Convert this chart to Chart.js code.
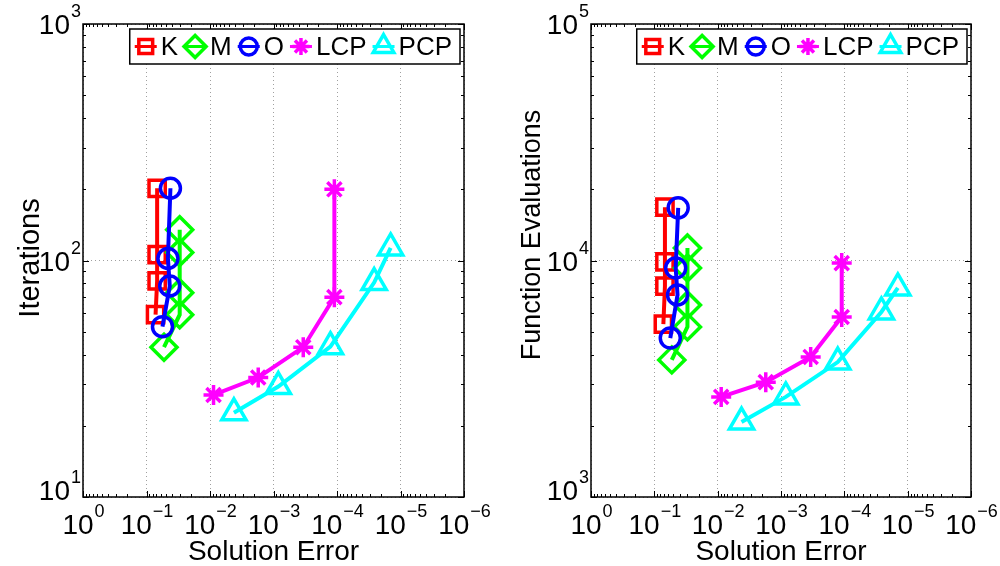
<!DOCTYPE html>
<html>
<head>
<meta charset="utf-8">
<script src="https://cdn.jsdelivr.net/npm/chart.js@4.4.1/dist/chart.umd.min.js"></script>
<style>
body { margin: 0; background: #fff; }
#wrap { position: relative; width: 1000px; height: 566px; }
canvas { position: absolute; top: 0; }
</style>
</head>
<body>
<div id="wrap">
  <canvas id="leftChart" width="500" height="566" style="left:0;width:500px;height:566px"></canvas>
  <canvas id="rightChart" width="500" height="566" style="left:500px;width:500px;height:566px"></canvas>
</div>
<script>
// Series names
var names = ['K', 'M', 'O', 'LCP', 'PCP'];

// Solution error (x, shared by both plots)
var kErr = [0.072, 0.068, 0.068, 0.068];
var mErr = [0.053, 0.030, 0.030, 0.030, 0.030];
var oErr = [0.056, 0.043, 0.046, 0.042];
var lcpErr = [0.0088, 0.00174, 0.00034, 0.00011, 0.00011];
var pcpErr = [0.0042, 0.00084, 0.000127, 0.000026, 0.0000143];

// Iterations (left plot)
var kIter = [59, 82, 106, 202];
var mIter = [43, 59, 73, 108, 135];
var oIter = [52.5, 78, 102, 202];
var lcpIter = [27, 32, 43, 70, 200];
var pcpIter = [22.7, 29.3, 43.2, 80.7, 113];

// Function evaluations (right plot)
var kEval = [5380, 7800, 9860, 16800];
var mEval = [3800, 5240, 6490, 9290, 11300];
var oEval = [4700, 7150, 9290, 16700];
var lcpEval = [2650, 3060, 3910, 5770, 9750];
var pcpEval = [2075, 2650, 3720, 6060, 7660];

// Tick labels (exponents of 10)
var xTickExps = [0, -1, -2, -3, -4, -5, -6];
var iterTickExps = [1, 2, 3];
var evalTickExps = [3, 4, 5];

var FONT = '"Liberation Sans", Arial, Helvetica, sans-serif';

var styles = [
    { color: '#ff0000', point: 'rect', radius: 11.5 },
    { color: '#00ff00', point: 'rectRot', radius: 13 },
    { color: '#0000ff', point: 'circle', radius: 10 },
    { color: '#ff00ff', point: 'star', radius: 10 },
    { color: '#00ffff', point: 'triangle', radius: 14 }
];

function toPoints(xs, ys) {
    return xs.map(function (x, i) { return { x: x, y: ys[i] }; });
}

function makeDatasets(ySets) {
    var xSets = [kErr, mErr, oErr, lcpErr, pcpErr];
    return names.map(function (n, i) {
        var s = styles[i];
        return {
            label: n,
            data: toPoints(xSets[i], ySets[i]),
            showLine: true,
            borderColor: s.color,
            borderWidth: 4,
            pointStyle: s.point,
            pointRadius: s.radius,
            pointBorderWidth: 3.5,
            pointBorderColor: s.color,
            pointBackgroundColor: 'rgba(0,0,0,0)',
            order: 5 - i
        };
    });
}

// log ticks 1..9 x 10^n between two exponents
function logTicks(lo, hi) {
    var t = [];
    for (var e = lo; e < hi; e++) {
        for (var m = 1; m < 10; m++) t.push({ value: m * Math.pow(10, e) });
    }
    t.push({ value: Math.pow(10, hi) });
    return t;
}

function isDecade(v) {
    var l = Math.log10(v);
    return Math.abs(l - Math.round(l)) < 1e-9;
}

function supLabel(ctx, x, y, exp, align) {
    var sup = exp < 0 ? '\u2212' + (-exp) : String(exp);
    ctx.font = '28px ' + FONT;
    var w1 = ctx.measureText('10').width;
    ctx.font = '18px ' + FONT;
    var w2 = ctx.measureText(sup).width;
    var start = align === 'center' ? x - (w1 + w2) / 2 : x - (w1 + w2);
    ctx.textAlign = 'left';
    ctx.textBaseline = 'alphabetic';
    ctx.font = '28px ' + FONT;
    ctx.fillText('10', start, y);
    ctx.font = '18px ' + FONT;
    ctx.fillText(sup, start + w1 + 1, y - 17);
}

// Axes box, inward ticks, tick labels, titles and legend drawn like the original
var matlabAxes = {
    id: 'matlabAxes',
    afterDraw: function (chart, args, opts) {
        var ctx = chart.ctx;
        var a = chart.chartArea;
        var xs = chart.scales.x, ys = chart.scales.y;
        ctx.save();
        ctx.strokeStyle = '#000';
        ctx.fillStyle = '#000';
        ctx.lineWidth = 1;
        ctx.beginPath();
        xs.ticks.forEach(function (t) {
            var px = Math.round(xs.getPixelForValue(t.value)) + 0.5;
            var len = isDecade(t.value) ? 6 : 3;
            ctx.moveTo(px, a.bottom); ctx.lineTo(px, a.bottom - len);
            ctx.moveTo(px, a.top); ctx.lineTo(px, a.top + len);
        });
        ys.ticks.forEach(function (t) {
            var py = Math.round(ys.getPixelForValue(t.value)) + 0.5;
            var len = isDecade(t.value) ? 6 : 3;
            ctx.moveTo(a.left, py); ctx.lineTo(a.left + len, py);
            ctx.moveTo(a.right, py); ctx.lineTo(a.right - len, py);
        });
        ctx.stroke();
        ctx.lineWidth = 1.5;
        ctx.strokeRect(a.left, a.top, a.right - a.left, a.bottom - a.top);

        xTickExps.forEach(function (e) {
            supLabel(ctx, xs.getPixelForValue(Math.pow(10, e)), a.bottom + 37, e, 'center');
        });
        opts.yExps.forEach(function (e, i) {
            var py = ys.getPixelForValue(Math.pow(10, e));
            if (i === 0) py -= 7;
            supLabel(ctx, a.left - 3, py + 10, e, 'right');
        });

        ctx.font = '28px ' + FONT;
        ctx.textAlign = 'center';
        ctx.textBaseline = 'alphabetic';
        ctx.fillText('Solution Error', (a.left + a.right) / 2, a.bottom + 63);
        ctx.save();
        ctx.translate(opts.yTitleX, opts.yTitleY);
        ctx.rotate(-Math.PI / 2);
        ctx.font = opts.yTitleSize + 'px ' + FONT;
        ctx.fillText(opts.yTitle, 0, 0);
        ctx.restore();

        // legend
        ctx.font = '26px ' + FONT;
        var items = chart.data.datasets.map(function (d) {
            return { d: d, w: ctx.measureText(d.label).width };
        });
        var total = 0;
        items.forEach(function (it, i) { total += 15 + it.w + (i < items.length - 1 ? 17 : 8); });
        var bx = a.right - 4 - total - 16;
        var by = a.top + 5, bh = 35;
        ctx.fillStyle = '#fff';
        ctx.fillRect(bx, by, a.right - 4 - bx, bh);
        ctx.lineWidth = 1.5;
        ctx.strokeStyle = '#000';
        ctx.strokeRect(bx, by, a.right - 4 - bx, bh);
        var cx = bx + 16, cy = by + bh / 2;
        items.forEach(function (it) {
            var d = it.d;
            var r = d.pointRadius * 0.85;
            ctx.strokeStyle = d.borderColor;
            ctx.lineWidth = 3;
            ctx.beginPath();
            ctx.moveTo(cx - 11, cy); ctx.lineTo(cx + 11, cy);
            ctx.stroke();
            ctx.lineWidth = 3.5;
            ctx.fillStyle = 'rgba(0,0,0,0)';
            Chart.helpers.drawPoint(ctx, { pointStyle: d.pointStyle, radius: r, rotation: 0, borderWidth: 3.5 }, cx, cy);
            ctx.fillStyle = '#000';
            ctx.textAlign = 'left';
            ctx.textBaseline = 'middle';
            ctx.fillText(d.label, cx + 15, cy + 1);
            cx += 15 + it.w + 17;
        });
        ctx.restore();
    }
};

function gridOpts() {
    return {
        drawTicks: false,
        color: function (c) { return c.tick && isDecade(c.tick.value) ? '#a0a0a0' : 'rgba(0,0,0,0)'; },
        lineWidth: 1
    };
}

function makeChart(id, ySets, yMin, yMax, yExps, yTitle, yTitleX, yTitleY, yTitleSize, pad) {
    var c = document.getElementById(id).getContext('2d');
    return new Chart(c, {
        type: 'scatter',
        data: { datasets: makeDatasets(ySets) },
        options: {
            responsive: false,
            animation: false,
            events: [],
            layout: { padding: pad },
            plugins: {
                legend: { display: false },
                tooltip: { enabled: false },
                matlabAxes: { yExps: yExps, yTitle: yTitle, yTitleX: yTitleX, yTitleY: yTitleY, yTitleSize: yTitleSize }
            },
            scales: {
                x: {
                    type: 'logarithmic',
                    reverse: true,
                    min: 1e-6,
                    max: 1,
                    afterBuildTicks: function (s) { s.ticks = logTicks(-6, 0); },
                    ticks: { display: false },
                    border: { display: false, dash: [1, 3] },
                    grid: gridOpts()
                },
                y: {
                    type: 'logarithmic',
                    min: yMin,
                    max: yMax,
                    afterBuildTicks: function (s) { s.ticks = logTicks(Math.log10(yMin), Math.log10(yMax)); },
                    ticks: { display: false },
                    border: { display: false, dash: [1, 3] },
                    grid: gridOpts()
                }
            }
        },
        plugins: [matlabAxes]
    });
}

makeChart('leftChart', [kIter, mIter, oIter, lcpIter, pcpIter], 10, 1000, iterTickExps,
    'Iterations', 39, 258, 29, { left: 83, top: 24, right: 36, bottom: 69 });
makeChart('rightChart', [kEval, mEval, oEval, lcpEval, pcpEval], 1000, 100000, evalTickExps,
    'Function Evaluations', 40, 235, 27, { left: 91, top: 24, right: 29, bottom: 69 });
</script>
</body>
</html>
